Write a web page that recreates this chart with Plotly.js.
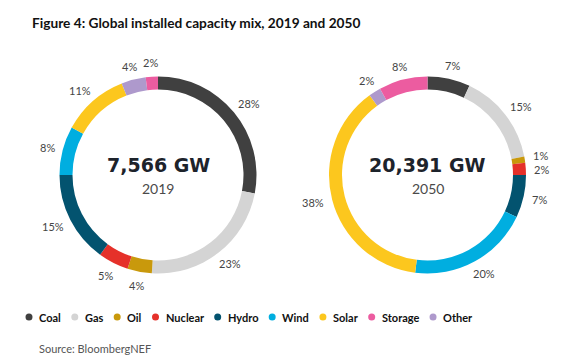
<!DOCTYPE html>
<html><head><meta charset="utf-8">
<script src="https://cdn.plot.ly/plotly-3.0.1.min.js"></script>
<style>html,body{margin:0;padding:0;background:#fff;overflow:hidden}#chart{width:581px;height:358px}</style>
</head><body><div id="chart"></div>
<script>
// ---- data ----
const categories = ['Coal','Gas','Oil','Nuclear','Hydro','Wind','Solar','Other','Storage'];
const share2019 = [28,23,4,5,15,8,11,4,2];
const share2050 = [7,15,1,2,7,20,38,2,8];
const totalsGW = [7566, 20391];
const years = ['2019','2050'];
const legendOrder = ['Coal','Gas','Oil','Nuclear','Hydro','Wind','Solar','Storage','Other'];
const titleText = 'Figure 4: Global installed capacity mix, 2019 and 2050';
const sourceText = 'Source: BloombergNEF';

// ---- styles ----
const palette = {Coal:'#404040', Gas:'#d4d4d4', Oil:'#c9990c', Nuclear:'#e5312a', Hydro:'#03536f',
                 Wind:'#00aee0', Solar:'#fcc71e', Storage:'#ec5ca0', Other:'#ae99cc'};
const W = 581, H = 358;
const R = 98.5, ringWidth = 13;
const centers = [{cx:158, cy:175}, {cx:427.5, cy:175}];
const labelFont = {family:'Lato', size:11, color:'#454545'};
const labelGap = 107;
const minSep = 14;

const px = x => x / W;
const py = y => 1 - y / H;

const canvas = document.createElement('canvas');
const ctx = canvas.getContext('2d');
function textWidth(t, font) { ctx.font = font; return ctx.measureText(t).width; }

const series = [share2019, share2050];
const traces = [];
const annotations = [];
const shapes = [];

series.forEach((vals, k) => {
  const c = centers[k];
  traces.push({
    type:'pie', values: vals, labels: categories, sort:false, direction:'clockwise', rotation:0,
    hole: (R - ringWidth) / R, textinfo:'none', hoverinfo:'label+percent', showlegend:false,
    marker:{colors: categories.map(n => palette[n]), line:{width:0}},
    domain:{x:[px(c.cx - R), px(c.cx + R)], y:[py(c.cy + R), py(c.cy - R)]}
  });
  const total = vals.reduce((a,b)=>a+b,0);
  let cum = 0;
  const labs = [];
  vals.forEach((v) => {
    const mid = (cum + v / 2) / total;
    cum += v;
    const th = 2 * Math.PI * mid;
    const txt = v + '%';
    const w = textWidth(txt, '11px Lato');
    const s = Math.sin(th), co = Math.cos(th);
    labs.push({txt, s, x: c.cx + (labelGap + w / 2) * s, y: c.cy - (labelGap + 5.5) * co});
  });
  // simple vertical de-overlap for labels on each side that sit near the horizontal
  [1, -1].forEach(side => {
    const grp = labs.filter(l => Math.sign(l.s) === side && Math.abs(l.s) > 0.8).sort((a,b)=>a.y-b.y);
    for (let i = 1; i < grp.length; i++) {
      const d = grp[i].y - grp[i-1].y;
      if (d < minSep) { const sh = (minSep - d) / 2; grp[i-1].y -= sh; grp[i].y += sh; }
    }
  });
  labs.forEach(l => annotations.push({xref:'paper', yref:'paper', x:px(l.x), y:py(l.y), text:l.txt,
    showarrow:false, xanchor:'center', yanchor:'middle', font:labelFont}));
  annotations.push({xref:'paper', yref:'paper', x:px(c.cx), y:py(c.cy - 10),
    text: totalsGW[k].toLocaleString('en-US') + ' GW', showarrow:false, xanchor:'center', yanchor:'middle',
    font:{family:'DejaVu Sans', size:19, color:'#1d232b', weight:700}});
  annotations.push({xref:'paper', yref:'paper', x:px(c.cx), y:py(c.cy + 13),
    text: years[k], showarrow:false, xanchor:'center', yanchor:'middle',
    font:{family:'Lato', size:14, color:'#4a4a4a'}});
});

// custom legend with round markers
let lx = 29;
const ly = 317;
legendOrder.forEach(name => {
  shapes.push({type:'circle', xref:'paper', yref:'paper', xsizemode:'pixel', ysizemode:'pixel',
    xanchor:px(lx), yanchor:py(ly), x0:-3.5, x1:3.5, y0:-3.5, y1:3.5,
    fillcolor:palette[name], line:{width:0}});
  const tx = lx + 9;
  annotations.push({xref:'paper', yref:'paper', x:px(tx), y:py(ly), text:name, showarrow:false,
    xanchor:'left', yanchor:'middle', xshift:-1,
    font:{family:'Lato', size:11, color:'#111', weight:700}});
  lx = tx + textWidth(name, 'bold 11px Lato') + 15;
});

annotations.push({xref:'paper', yref:'paper', x:px(37), y:py(348), text:sourceText, showarrow:false,
  xanchor:'left', yanchor:'middle', font:{family:'Lato', size:11, color:'#555'}});

const layout = {
  width:W, height:H, margin:{l:0,r:0,t:0,b:0}, paper_bgcolor:'#fff', plot_bgcolor:'#fff',
  title:{text:'<b>' + titleText + '</b>', x:px(32), xanchor:'left', xref:'paper', y:py(23), yanchor:'middle',
    font:{family:'Lato', size:13.7, color:'#111'}},
  annotations, shapes, showlegend:false
};
Plotly.newPlot('chart', traces, layout, {displayModeBar:false, staticPlot:true});
</script></body></html>
